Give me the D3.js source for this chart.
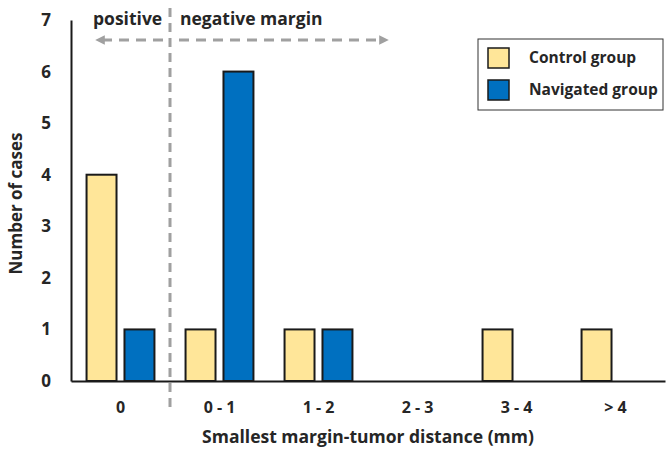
<!DOCTYPE html>
<html>
<head>
<meta charset="utf-8">
<script src="https://cdn.jsdelivr.net/npm/d3@7"></script>
<style>
  body { margin: 0; background: #fff; }
  svg text { font-family: "Open Sans", sans-serif; font-weight: bold; fill: #262626; }
</style>
</head>
<body>
<div class="d3"></div>
<script>
'use strict';

const categories = ['0', '0 - 1', '1 - 2', '2 - 3', '3 - 4', '> 4'];
const groups = ['Control group', 'Navigated group'];
const controlValues = [4, 1, 1, 0, 1, 1];
const navigatedValues = [1, 6, 1, 0, 0, 0];
const yTicks = [0, 1, 2, 3, 4, 5, 6, 7];

const colors = {
  'Control group': '#FFE699',
  'Navigated group': '#0070C0'
};

function drawChart() {
  const width = 667, height = 452;
  const margin = {top: 20, right: 2, bottom: 71, left: 71};

  const rows = categories.map((c, i) => ({
    cat: c,
    values: [
      {group: groups[0], value: controlValues[i]},
      {group: groups[1], value: navigatedValues[i]}
    ]
  }));

  const svg = d3.select('.d3').append('svg')
    .attr('width', width)
    .attr('height', height);

  const x0 = d3.scaleBand().domain(categories).range([margin.left, width - margin.right]);
  const x1 = d3.scaleBand().domain(groups).range([0, x0.bandwidth()])
    .paddingInner(0.21).paddingOuter(0.41);
  const y = d3.scaleLinear().domain([0, 7]).range([height - margin.bottom, margin.top]);

  // bars
  svg.append('g').selectAll('g')
    .data(rows)
    .enter().append('g')
    .attr('transform', d => 'translate(' + x0(d.cat) + ',0)')
    .selectAll('rect')
    .data(d => d.values.filter(v => v.value > 0))
    .enter().append('rect')
    .attr('x', d => x1(d.group))
    .attr('y', d => y(d.value))
    .attr('width', x1.bandwidth())
    .attr('height', d => y(0) - y(d.value))
    .attr('fill', d => colors[d.group])
    .attr('stroke', '#1a1a1a')
    .attr('stroke-width', 2);

  // y axis
  const yAxis = svg.append('g')
    .attr('transform', 'translate(' + margin.left + ',0)')
    .call(d3.axisLeft(y).tickValues(yTicks).tickFormat(d3.format('d')).tickSize(0).tickPadding(20));
  yAxis.select('.domain').attr('stroke', '#1a1a1a').attr('stroke-width', 2);
  yAxis.selectAll('text').style('font-size', '17px').style('font-family', '"Open Sans", sans-serif')
    .style('font-weight', 'bold').attr('fill', '#262626');

  // x axis
  const xAxis = svg.append('g')
    .attr('transform', 'translate(0,' + y(0) + ')')
    .call(d3.axisBottom(x0).tickSize(0).tickPadding(21));
  xAxis.select('.domain').attr('stroke', '#1a1a1a').attr('stroke-width', 2);
  xAxis.selectAll('text').style('font-size', '16px').style('font-family', '"Open Sans", sans-serif')
    .style('font-weight', 'bold').attr('fill', '#262626');

  // axis titles
  svg.append('text')
    .attr('transform', 'translate(22,' + (y(3.5) + 3) + ') rotate(-90)')
    .attr('text-anchor', 'middle')
    .style('font-size', '17px')
    .text('Number of cases');
  svg.append('text')
    .attr('x', x0.range()[0] + (x0.range()[1] - x0.range()[0]) / 2)
    .attr('y', 443)
    .attr('text-anchor', 'middle')
    .style('font-size', '17.5px')
    .text('Smallest margin-tumor distance (mm)');

  // dashed separator between positive and negative margins
  const sepX = x0(categories[1]);
  svg.append('line')
    .attr('x1', sepX).attr('x2', sepX)
    .attr('y1', 8).attr('y2', 412)
    .attr('stroke', '#a0a0a0')
    .attr('stroke-width', 3)
    .attr('stroke-dasharray', '9,6');

  // arrows
  const defs = svg.append('defs');
  defs.append('marker')
    .attr('id', 'arrowhead')
    .attr('viewBox', '0 0 10 10')
    .attr('refX', 5).attr('refY', 5)
    .attr('markerWidth', 3.2).attr('markerHeight', 3.2)
    .attr('orient', 'auto-start-reverse')
    .append('path').attr('d', 'M0,0 L10,5 L0,10 z').attr('fill', '#a0a0a0');

  svg.append('line')
    .attr('x1', 163).attr('x2', 100)
    .attr('y1', 40).attr('y2', 40)
    .attr('stroke', '#a0a0a0').attr('stroke-width', 3)
    .attr('stroke-dasharray', '10,7')
    .attr('marker-end', 'url(#arrowhead)');
  svg.append('line')
    .attr('x1', 179).attr('x2', 384)
    .attr('y1', 40).attr('y2', 40)
    .attr('stroke', '#a0a0a0').attr('stroke-width', 3)
    .attr('stroke-dasharray', '10,7')
    .attr('marker-end', 'url(#arrowhead)');

  svg.append('text').attr('x', 93).attr('y', 25)
    .style('font-size', '17.5px').text('positive');
  svg.append('text').attr('x', 180).attr('y', 25)
    .style('font-size', '17.5px').text('negative margin');

  // legend
  const legend = svg.append('g').attr('transform', 'translate(478,39)');
  legend.append('rect')
    .attr('width', 185).attr('height', 71)
    .attr('fill', '#fff').attr('stroke', '#333').attr('stroke-width', 1);
  groups.forEach((g, i) => {
    legend.append('rect')
      .attr('x', 10).attr('y', 9 + i * 32)
      .attr('width', 21).attr('height', 20)
      .attr('fill', colors[g]).attr('stroke', '#1a1a1a').attr('stroke-width', 1.5);
    legend.append('text')
      .attr('x', 51).attr('y', 24 + i * 32)
      .style('font-size', '15.5px')
      .text(g);
  });
}

drawChart();
</script>
</body>
</html>
